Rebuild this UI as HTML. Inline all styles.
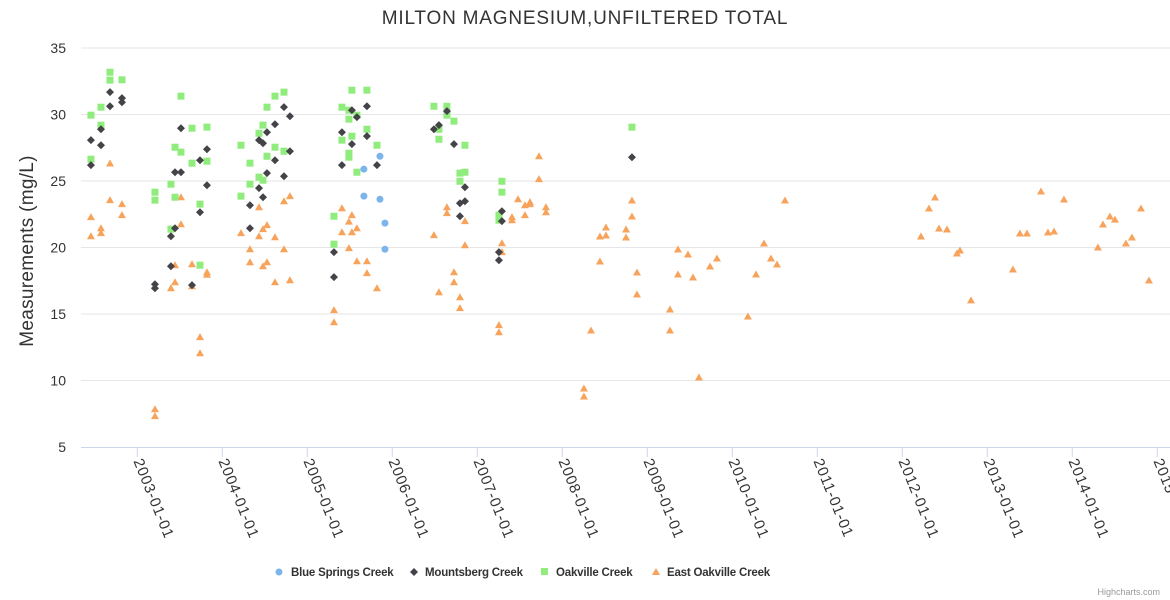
<!DOCTYPE html>
<html><head><meta charset="utf-8"><style>
body{margin:0;background:#fff;font-family:"Liberation Sans",Arial,sans-serif}
svg{display:block}
</style></head><body>
<svg id="chart" width="1170" height="600" xmlns="http://www.w3.org/2000/svg">
<rect width="1170" height="600" fill="#fff"/>
<text x="585" y="24" text-anchor="middle" font-size="19" letter-spacing="0.8" fill="#333">MILTON MAGNESIUM,UNFILTERED TOTAL</text>
<text transform="translate(33,251) rotate(-90)" text-anchor="middle" font-size="19" letter-spacing="0.3" fill="#333">Measurements (mg/L)</text>
<g id="grid"></g><g id="xaxis"></g><g id="marks"></g>
<g font-size="11.5" font-weight="bold" fill="#333" letter-spacing="-0.2">
 <g><circle cx="279" cy="572" r="3.5" fill="#7cb5ec"/><text x="291" y="576">Blue Springs Creek</text></g>
 <g><path d="M414 568 L418 572 L414 576 L410 572 Z" fill="#434348"/><text x="425" y="576">Mountsberg Creek</text></g>
 <g><rect x="541" y="568" width="7" height="7" fill="#90ed7d"/><text x="556" y="576">Oakville Creek</text></g>
 <g><path d="M656 568 L660 575 L652 575 Z" fill="#f7a35c"/><text x="667" y="576">East Oakville Creek</text></g>
</g>
<text x="1160" y="595" text-anchor="end" font-size="9" fill="#999">Highcharts.com</text>
</svg>
<script>
const yTicks=[5,10,15,20,25,30,35];
const xTickYears=[2003,2004,2005,2006,2007,2008,2009,2010,2011,2012,2013,2014,2015];
const blueDates=[2005.855,2005.666,2005.666,2005.855,2005.914,2005.914];
const blueValues=[26.86,25.89,23.86,23.63,21.83,19.87];
const mountDates=[2002.679,2002.679,2002.82,2002.82,2002.573,2002.455,2002.573,2002.455,2003.514,2003.82,2003.738,2003.444,2003.514,2003.82,2003.738,2003.444,2003.396,2003.396,2003.208,2003.208,2003.644,2004.726,2004.796,2004.62,2004.526,2004.432,2004.479,2004.796,2004.62,2004.526,2004.726,2004.432,2004.479,2004.326,2004.326,2005.525,2005.584,2005.702,2005.408,2005.702,2005.525,2005.408,2005.82,2005.314,2005.314,2006.643,2006.549,2006.49,2006.726,2006.855,2006.796,2006.855,2006.796,2007.29,2007.29,2007.255,2007.255,2008.82];
const mountValues=[31.68,30.62,31.23,30.92,28.89,28.07,27.69,26.19,28.97,27.39,26.56,25.66,25.66,24.68,22.65,21.45,20.85,18.59,17.24,16.94,17.17,30.55,29.87,29.27,28.67,28.07,27.84,27.24,26.56,25.59,25.36,24.46,23.78,23.18,21.45,30.32,29.8,30.62,28.67,28.37,27.77,26.19,26.19,19.65,17.77,30.25,29.2,28.89,27.77,24.53,23.33,23.48,22.35,22.73,21.98,19.65,19.04,26.79];
const oakDates=[2002.455,2002.679,2002.679,2002.82,2002.573,2002.573,2002.455,2003.514,2003.644,2003.82,2003.444,2003.514,2003.644,2003.82,2003.396,2003.208,2003.208,2003.444,2003.738,2003.396,2003.738,2004.22,2004.326,2004.479,2004.432,2004.526,2004.62,2004.726,2004.62,2004.726,2004.526,2004.326,2004.432,2004.479,2004.22,2005.525,2005.702,2005.408,2005.49,2005.584,2005.49,2005.702,2005.525,2005.408,2005.82,2005.49,2005.49,2005.584,2005.314,2005.314,2006.49,2006.643,2006.643,2006.726,2006.549,2006.549,2006.855,2006.796,2006.855,2006.796,2007.29,2007.29,2007.255,2007.255,2008.82];
const oakValues=[29.95,33.18,32.58,32.61,30.55,29.2,26.64,31.38,28.97,29.05,27.54,27.17,26.34,26.49,24.76,24.16,23.56,23.78,23.26,21.38,18.67,27.69,26.34,29.2,28.59,30.55,31.38,31.68,27.54,27.24,26.86,24.76,25.29,25.06,23.86,31.83,31.83,30.55,30.32,29.95,29.65,28.89,28.37,28.07,27.69,27.09,26.79,25.66,22.35,20.25,30.62,30.62,29.95,29.5,28.89,28.14,27.69,25.59,25.66,24.98,24.98,24.16,22.43,22.05,29.05];
const eastDates=[2002.679,2002.679,2002.82,2002.82,2002.455,2002.573,2002.573,2002.455,2003.514,2003.514,2003.444,2003.644,2003.82,2003.82,2003.444,2003.396,2003.644,2003.738,2003.738,2003.208,2003.208,2004.796,2004.726,2004.432,2004.526,2004.479,2004.22,2004.432,2004.62,2004.326,2004.726,2004.326,2004.526,2004.479,2004.62,2004.796,2005.408,2005.525,2005.49,2005.584,2005.408,2005.525,2005.49,2005.584,2005.702,2005.702,2005.82,2005.314,2005.314,2006.643,2006.643,2006.49,2006.855,2006.855,2006.726,2006.726,2006.549,2006.796,2006.796,2007.726,2007.726,2007.479,2007.561,2007.62,2007.62,2007.808,2007.808,2007.408,2007.408,2007.561,2007.29,2007.29,2007.255,2007.255,2008.82,2008.82,2008.514,2008.443,2008.514,2008.75,2008.75,2008.443,2008.879,2008.879,2008.338,2008.255,2008.255,2009.361,2009.479,2009.361,2009.538,2009.267,2009.267,2009.608,2009.82,2009.738,2010.184,2010.279,2010.373,2010.455,2010.526,2010.62,2012.385,2012.314,2012.22,2012.432,2012.526,2012.643,2012.679,2012.808,2013.302,2013.384,2013.467,2013.632,2013.714,2013.785,2013.902,2014.302,2014.361,2014.443,2014.502,2014.631,2014.702,2014.808,2014.902];
const eastValues=[26.32,23.56,23.26,22.43,22.28,21.45,21.08,20.85,23.78,21.75,18.67,18.74,18.14,17.95,17.39,16.94,17.09,13.26,12.05,7.84,7.32,23.86,23.48,23.03,21.68,21.38,21.08,20.85,20.77,19.87,19.87,18.89,18.89,18.59,17.39,17.54,22.95,22.43,21.95,21.45,21.15,21.15,19.95,18.97,18.97,18.07,16.94,15.29,14.38,23.03,22.58,20.93,21.98,20.17,18.14,17.39,16.64,16.26,15.44,26.86,25.14,23.63,23.18,23.41,23.26,23.03,22.65,22.28,22.05,22.43,20.32,19.65,14.16,13.63,23.53,22.33,21.5,20.83,20.9,21.35,20.75,18.95,18.12,16.47,13.76,9.4,8.8,19.85,19.47,17.97,17.74,15.34,13.76,10.23,19.17,18.57,14.81,17.97,20.3,19.17,18.72,23.53,23.76,22.93,20.83,21.43,21.35,19.55,19.77,16.02,18.35,21.05,21.05,24.21,21.13,21.2,23.61,20.0,21.73,22.33,22.1,20.3,20.75,22.93,17.52];

const NS='http://www.w3.org/2000/svg';
const X0=81,X1=1170,Y0=447,YT=48;
const xMin=2002.338,xMax=2002.338+(X1-X0)/85;
function xs(t){return X0+(t-xMin)/(xMax-xMin)*(X1-X0);}
function ys(v){return Y0-(v-5)/30*(Y0-YT);}
function mk(tag,attrs,parent){const e=document.createElementNS(NS,tag);for(const k in attrs)e.setAttribute(k,attrs[k]);parent.appendChild(e);return e;}
const grid=document.getElementById('grid'),xa=document.getElementById('xaxis'),marks=document.getElementById('marks');
yTicks.forEach(v=>{
  const y=ys(v);
  if(v>5){const l=mk('line',{x1:X0,x2:X1,y1:y,y2:y,stroke:'#e6e6e6','stroke-width':1},grid);
  
  }
  const t=mk('text',{x:66,y:y+5,'text-anchor':'end','font-size':14,fill:'#333'},grid);t.textContent=v;
  
  
});
const ax=mk('line',{x1:X0,x2:X1,y1:Y0+0.5,y2:Y0+0.5,stroke:'#ccd6eb'},xa);


xTickYears.forEach(yr=>{
  const x=xs(yr);
  mk('line',{x1:x,x2:x,y1:Y0,y2:Y0+10,stroke:'#ccd6eb'},xa);
  const t=mk('text',{transform:`translate(${x-4},${Y0+14}) rotate(68)`,'font-size':15,'letter-spacing':0.8,fill:'#333'},xa);
  t.textContent=yr+'-01-01';
  
  
});
function draw(dates,vals,shape,color,name){
  for(let i=0;i<dates.length;i++){
    const x=xs(dates[i]),y=ys(vals[i]);let e;
    if(shape==='circle')e=mk('circle',{cx:x,cy:y,r:3.5,fill:color},marks);
    else if(shape==='diamond')e=mk('path',{d:`M${x} ${y-4}L${x+4} ${y}L${x} ${y+4}L${x-4} ${y}Z`,fill:color},marks);
    else if(shape==='square')e=mk('rect',{x:x-3.5,y:y-3.5,width:7,height:7,fill:color},marks);
    else e=mk('path',{d:`M${x} ${y-4}L${x+4} ${y+3}L${x-4} ${y+3}Z`,fill:color},marks);
    
    
  }
}
draw(eastDates,eastValues,'triangle','#f7a35c','east-oakville');
draw(oakDates,oakValues,'square','#90ed7d','oakville');
draw(mountDates,mountValues,'diamond','#434348','mountsberg');
draw(blueDates,blueValues,'circle','#7cb5ec','blue-springs');
</script>
</body></html>
